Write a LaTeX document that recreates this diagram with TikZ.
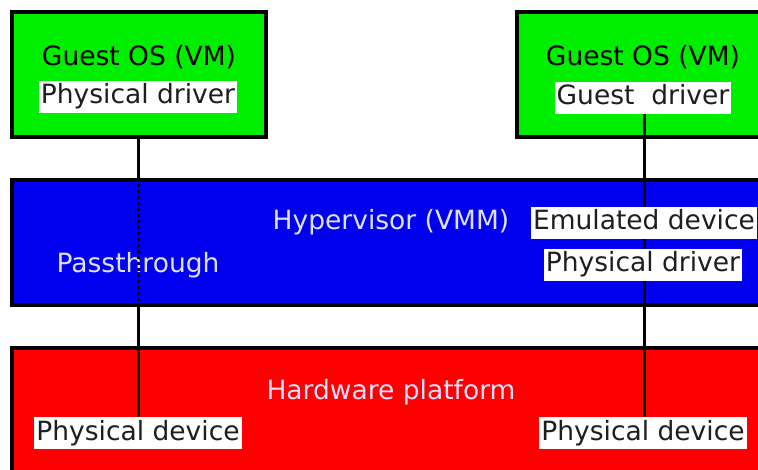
\documentclass[tikz,border=0pt]{standalone}
\usepackage{fontspec}
\setmainfont{DejaVu Sans}
\definecolor{vmgreen}{RGB}{0,238,0}
\definecolor{hvblue}{RGB}{0,0,238}
\definecolor{hwred}{RGB}{255,0,0}
\definecolor{lighttext}{RGB}{225,225,255}
\definecolor{labeltext}{RGB}{30,30,30}
\begin{document}
\begin{tikzpicture}[x=1pt,y=1pt,
  layer/.style={draw=black, line width=4pt, inner sep=0pt},
  title/.style={font=\fontsize{26.5}{30}\selectfont, inner sep=0pt},
  tag/.style={fill=white, text=labeltext, font=\fontsize{26.5}{30}\selectfont,
    inner xsep=2pt, inner ysep=3pt, text height=20pt, text depth=6pt},
  conn/.style={line width=3pt, draw=black},
  dotconn/.style={line width=3pt, draw=black, dash pattern=on 3pt off 3pt}]
\useasboundingbox (0,0) rectangle (758,-470);
\clip (0,0) rectangle (758,-470);
% layers
\node[layer, fill=vmgreen, minimum width=254pt, minimum height=125pt] (gl) at (139,-74.5) {};
\node[layer, fill=vmgreen, minimum width=283pt, minimum height=125pt] (gr) at (658.5,-74.5) {};
\node[layer, fill=hvblue, minimum width=788pt, minimum height=125pt] (hv) at (406,-242.5) {};
\node[layer, fill=hwred, minimum width=788pt, minimum height=152pt] (hw) at (406,-424) {};
% titles
\node[title, text=black] (tgl) at (139,-57) {Guest OS (VM)};
\node[title, text=black] (tgr) at (643,-57) {Guest OS (VM)};
\node[title, text=lighttext] (thv) at (391,-222) {Hypervisor (VMM)};
\node[title, text=lighttext] (tpt) at (138,-265) {Passthrough};
\node[title, text=lighttext] (thw) at (391,-392) {Hardware platform};
% connector anchors
\coordinate (cL) at (138,0);
\coordinate (gdb) at (644,-112);
\coordinate (pdLt) at (138,-417);
\coordinate (pdRt) at (644,-417);
% connectors
\draw[conn] (cL |- gl.south) -- (cL |- hv.north);
\draw[dotconn] (cL |- hv.north) -- (cL |- hv.south);
\draw[conn] (cL |- hv.south) -- (pdLt);
\draw[conn] (gdb) -- (pdRt);
% labels
\node[tag] (pdrvL) at (138,-97) {Physical driver};
\node[tag] (gd) at (643,-98) {Guest\ \ driver};
\node[tag] (emu) at (644,-223) {Emulated device};
\node[tag] (pdrvR) at (643,-265) {Physical driver};
\node[tag] (pdevL) at (138,-433) {Physical device};
\node[tag] (pdevR) at (643,-433) {Physical device};
\end{tikzpicture}
\end{document}
